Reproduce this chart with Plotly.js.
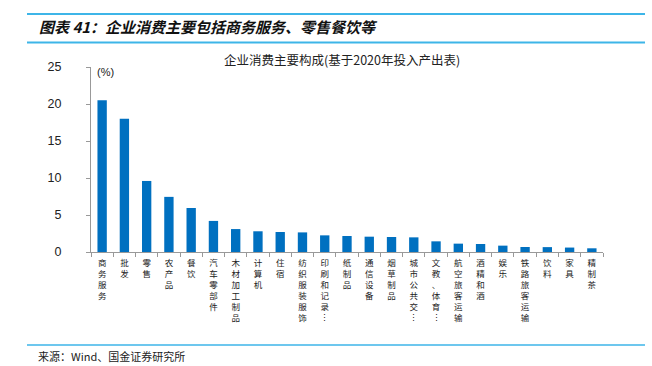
<!DOCTYPE html>
<html>
<head>
<meta charset="utf-8">
<script src="https://cdn.plot.ly/plotly-3.0.1.min.js"></script>
<style>html,body{margin:0;padding:0;background:#fff;}#chart{width:652px;height:366px;}</style>
</head>
<body>
<div id="chart"></div>
<script>
const categories = ["商务服务","批发","零售","农产品","餐饮","汽车零部件","木材加工制品","计算机","住宿","纺织服装服饰","印刷和记录⋮","纸制品","通信设备","烟草制品","城市公共交⋮","文教、体育⋮","航空旅客运输","酒精和酒","娱乐","铁路旅客运输","饮料","家具","精制茶"];
const values = [20.5, 18.0, 9.6, 7.45, 5.95, 4.2, 3.1, 2.8, 2.7, 2.65, 2.25, 2.16, 2.07, 2.03, 1.98, 1.44, 1.13, 1.08, 0.86, 0.68, 0.66, 0.6, 0.5];
const yTicks = [0, 5, 10, 15, 20, 25];

const W = 652, H = 366;
const px = x => x / W;
const py = y => 1 - y / H;
const cjk = '"Noto Sans CJK SC", "Noto Sans", sans-serif';
const lineColor = '#3db5e8';

const ticktext = categories.map(c => Array.from(c).join('<br>'));

const trace = {
  type: 'bar',
  x: categories,
  y: values,
  marker: {color: '#0070c0'},
  hoverinfo: 'x+y'
};

const layout = {
  width: W, height: H,
  margin: {l: 0, r: 0, t: 0, b: 0},
  paper_bgcolor: '#fff', plot_bgcolor: '#fff',
  showlegend: false,
  bargap: 0.58,
  xaxis: {
    domain: [px(91), px(603)],
    anchor: 'y',
    type: 'category',
    tickmode: 'array',
    tickvals: categories,
    ticktext: ticktext,
    tickangle: 0,
    tickfont: {family: cjk, size: 8.5, color: '#222'},
    showline: true, linecolor: '#999', linewidth: 1,
    ticks: 'outside', tickson: 'boundaries', ticklen: 4, tickcolor: '#999',
    ticklabelstandoff: 3,
    showgrid: false, zeroline: false, automargin: false
  },
  yaxis: {
    domain: [py(252), py(67)],
    anchor: 'x',
    range: [0, 25],
    tickmode: 'array',
    tickvals: yTicks,
    ticktext: yTicks.map(String),
    tickfont: {family: 'Liberation Sans, Arial, sans-serif', size: 12.5, color: '#222'},
    showline: true, linecolor: '#999', linewidth: 1,
    ticks: 'outside', ticklen: 4, tickcolor: '#999',
    ticklabelstandoff: 22,
    showgrid: false, zeroline: false, automargin: false
  },
  shapes: [
    {type: 'line', xref: 'paper', yref: 'paper', x0: px(27), x1: px(645), y0: py(14), y1: py(14), line: {color: lineColor, width: 2}},
    {type: 'line', xref: 'paper', yref: 'paper', x0: px(27), x1: px(645), y0: py(42.5), y1: py(42.5), line: {color: lineColor, width: 2}},
    {type: 'line', xref: 'paper', yref: 'paper', x0: px(27), x1: px(645), y0: py(345), y1: py(345), line: {color: lineColor, width: 1.5}}
  ],
  annotations: [
    {xref: 'paper', yref: 'paper', x: px(37), y: py(27), xanchor: 'left', yanchor: 'middle', showarrow: false,
     text: '<b><i>图表 41：企业消费主要包括商务服务、零售餐饮等</i></b>',
     font: {family: cjk, size: 15, color: '#111'}},
    {xref: 'paper', yref: 'paper', x: px(342), y: py(60), xanchor: 'center', yanchor: 'middle', showarrow: false,
     text: '企业消费主要构成(基于2020年投入产出表)',
     font: {family: cjk, size: 12.5, color: '#222'}},
    {xref: 'paper', yref: 'paper', x: px(95), y: py(72), xanchor: 'left', yanchor: 'middle', showarrow: false,
     text: '(%)',
     font: {family: 'Liberation Sans, Arial, sans-serif', size: 11, color: '#222'}},
    {xref: 'paper', yref: 'paper', x: px(36), y: py(366), xanchor: 'left', yanchor: 'bottom', showarrow: false,
     text: '来源：Wind、国金证券研究所',
     font: {family: cjk, size: 11, color: '#222'}}
  ]
};

Plotly.newPlot('chart', [trace], layout, {displayModeBar: false, staticPlot: true});
</script>
</body>
</html>
